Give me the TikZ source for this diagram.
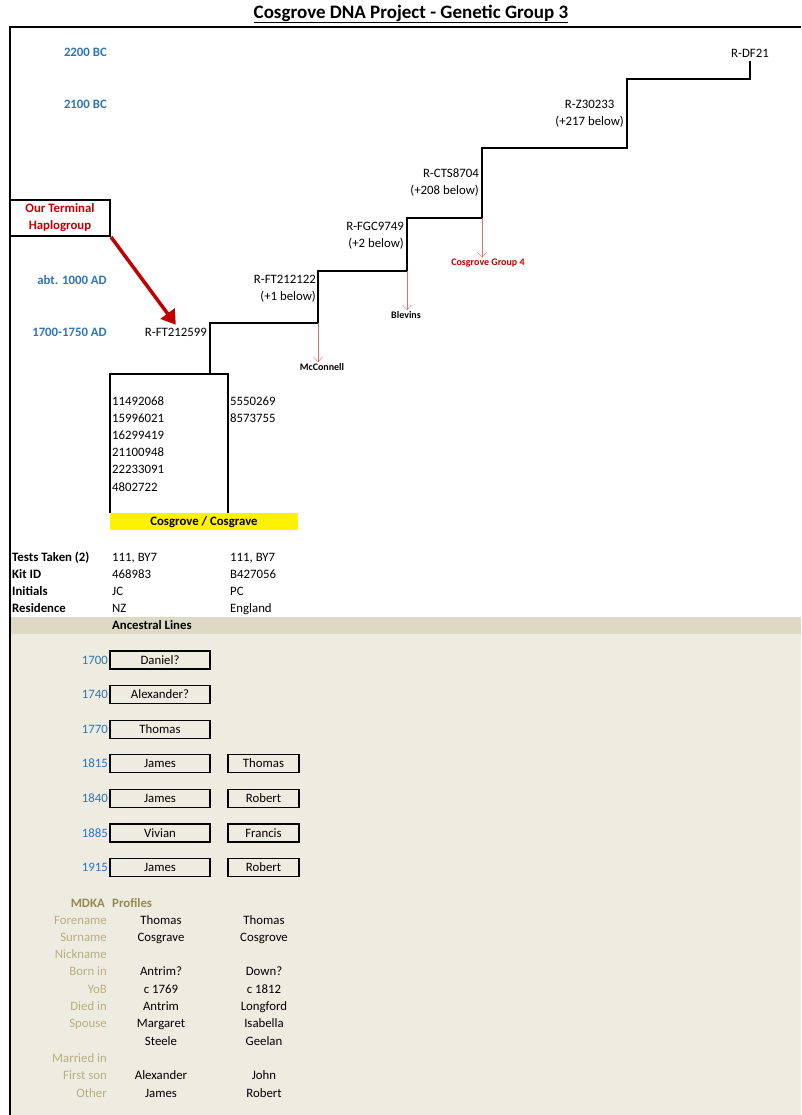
\documentclass[tikz,border=0pt]{standalone}
\usepackage{fontspec}
\setmainfont{Carlito}
\usepackage{tikz}
\usetikzlibrary{arrows.meta,positioning}
\definecolor{eraBlue}{RGB}{46,117,182}
\definecolor{termRed}{RGB}{192,0,0}
\definecolor{branchRed}{RGB}{228,108,108}
\definecolor{bandTan}{RGB}{221,217,196}
\definecolor{paleTan}{RGB}{238,236,225}
\definecolor{oliveDark}{RGB}{148,138,84}
\definecolor{oliveLight}{RGB}{184,174,128}

\begin{document}
\begin{tikzpicture}[x=1pt, y=-1pt,
    txt/.style={inner sep=1pt, text height=10pt, text depth=2pt, font=\fontsize{12.8}{17}\selectfont},
    era/.style={txt, anchor=east, text=eraBlue, font=\bfseries\fontsize{12.8}{17}\selectfont},
    yr/.style={txt, anchor=east, text=eraBlue},
    hap/.style={inner sep=1pt, font=\fontsize{12.8}{17}\selectfont, align=right, anchor=east},
    clan/.style={inner sep=1pt, font=\bfseries\fontsize{10}{12}\selectfont},
    termbox/.style={draw, line width=2pt, align=center, minimum width=100, minimum height=36, inner sep=0pt, text=termRed, font=\bfseries\fontsize{12.8}{17}\selectfont},
    anc/.style={draw, line width=1.1pt, minimum width=100, minimum height=18, inner sep=0pt, text height=10pt, text depth=2pt, font=\fontsize{12.8}{17}\selectfont},
    bold/.style={txt, font=\bfseries\fontsize{12.8}{17}\selectfont},
    mdkahead/.style={txt, text=oliveDark, font=\bfseries\fontsize{12.8}{17}\selectfont},
    mdkalab/.style={txt, anchor=east, text=oliveLight},
    stair/.style={line width=1.2pt, line join=miter},
    branch/.style={-{Straight Barb[length=5pt, width=9pt]}, thin, branchRed},
    pointer/.style={-{Triangle[length=14pt, width=17pt]}, line width=3.5pt, termRed}
  ]
    \useasboundingbox (0,0) rectangle (801,1115);

    % background of the ancestral part
    \fill[paleTan] (10,634) rectangle (801,1115);
    \fill[bandTan] (10,617) rectangle (801,634);

    \node[inner sep=1pt, font=\bfseries\fontsize{19}{22}\selectfont] (title) at (411,14) {\underline{Cosgrove DNA Project - Genetic Group 3}};
    \draw[line width=2.4pt] (10,1115) -- (10,27) -- (801,27);

    % time scale
    \node[era] (e2200) at (108,53) {2200 BC};
    \node[era] (e2100) at (108,105) {2100 BC};
    \node[era] (e1000) at (108,280) {abt. 1000 AD};
    \node[era] (e1700) at (108,332) {1700-1750 AD};

    % haplogroups
    \node[txt] (df21) at (750,54) {R-DF21};
    \node[hap, align=center] (z30233) at (625,114) {R-Z30233\\(+217 below)};
    \node[hap] (cts8704) at (480,182.5) {R-CTS8704\\(+208 below)};
    \node[hap] (fgc9749) at (405,236) {R-FGC9749\\(+2 below)};
    \node[hap] (ft212122) at (317,288.5) {R-FT212122\\(+1 below)};
    \node[txt, anchor=east] (ft212599) at (208,332) {R-FT212599};

    \coordinate (kittop) at (210,374);
    \coordinate (c1) at (318,323);
    \coordinate (c2) at (407,271);
    \coordinate (c3) at (482,218);
    \coordinate (c4) at (627,148);
    \coordinate (c5) at (750,79);
    \draw[stair] (kittop) |- (c1) |- (c2) |- (c3) |- (c4) |- (c5) -- (df21.south);

    % other groups
    \node[clan] (mcconnell) at (322,367) {McConnell};
    \node[clan] (blevins) at (406,315) {Blevins};
    \node[clan, text=termRed] (group4) at (488,263) {Cosgrove Group 4};
    \draw[branch] (c1) -- (c1 |- mcconnell.north);
    \draw[branch] (c2) -- (c2 |- blevins.north);
    \draw[branch] (c3) -- (c3 |- group4.north);

    \node[termbox] (term) at (60,218) {Our Terminal\\Haplogroup};
    \draw[pointer] (term.south east) -- (ft212599.north);

    % kits
    \draw[stair] (110,513) |- (228,374) -- (228,513);
    \foreach \k [count=\i] in {11492068,15996021,16299419,21100948,22233091,4802722}
      \node[txt, anchor=west] (kitA\i) at (111,383.8+17.2*\i) {\k};
    \node[txt, anchor=west] (kitB1) at (229,401) {5550269};
    \node[txt, anchor=west] (kitB2) at (229,418.2) {8573755};
    \node[bold, fill=yellow, minimum width=188, minimum height=17, inner sep=0pt] (surname) at (204,521.5) {Cosgrove / Cosgrave};

    \foreach \lab/\a/\b [count=\i] in {Tests Taken (2)/{111, BY7}/{111, BY7}, Kit ID/468983/B427056, Initials/JC/PC, Residence/NZ/England} {
      \node[bold, anchor=west] (row\i) at (11,540+17*\i) {\lab};
      \node[txt, anchor=west] (rowA\i) at (111,540+17*\i) {\a};
      \node[txt, anchor=west] (rowB\i) at (229,540+17*\i) {\b};
    }

    % ancestral lines
    \node[bold, anchor=west] (ancestral) at (111,625.5) {Ancestral Lines};
    \foreach \yr/\a [count=\i] in {1700/Daniel?, 1740/Alexander?, 1770/Thomas, 1815/James, 1840/James, 1885/Vivian, 1915/James} {
      \node[yr] (yr\i) at (109,625.4+34.6*\i) {\yr};
      \node[anc] (ancA\i) at (160,625.4+34.6*\i) {\a};
    }
    \foreach \b [count=\i from 4] in {Thomas, Robert, Francis, Robert}
      \node[anc, minimum width=71] (ancB\i) at (263.5,625.4+34.6*\i) {\b};

    % MDKA profiles
    \node[mdkahead, anchor=east] (mdka) at (106,903) {MDKA};
    \node[mdkahead, anchor=west] (profiles) at (111,903) {Profiles};
    \foreach \lab/\a/\b [count=\i] in {Forename/Thomas/Thomas, Surname/Cosgrave/Cosgrove, Nickname//, Born in/Antrim?/Down?, YoB/c 1769/c 1812, Died in/Antrim/Longford, Spouse/Margaret/Isabella, /Steele/Geelan, Married in//, First son/Alexander/John, Other/James/Robert} {
      \node[mdkalab] (lab\i) at (108,902.7+17.3*\i) {\lab};
      \node[txt] (valA\i) at (161,902.7+17.3*\i) {\a};
      \node[txt] (valB\i) at (264,902.7+17.3*\i) {\b};
    }
  \end{tikzpicture}
\end{document}
